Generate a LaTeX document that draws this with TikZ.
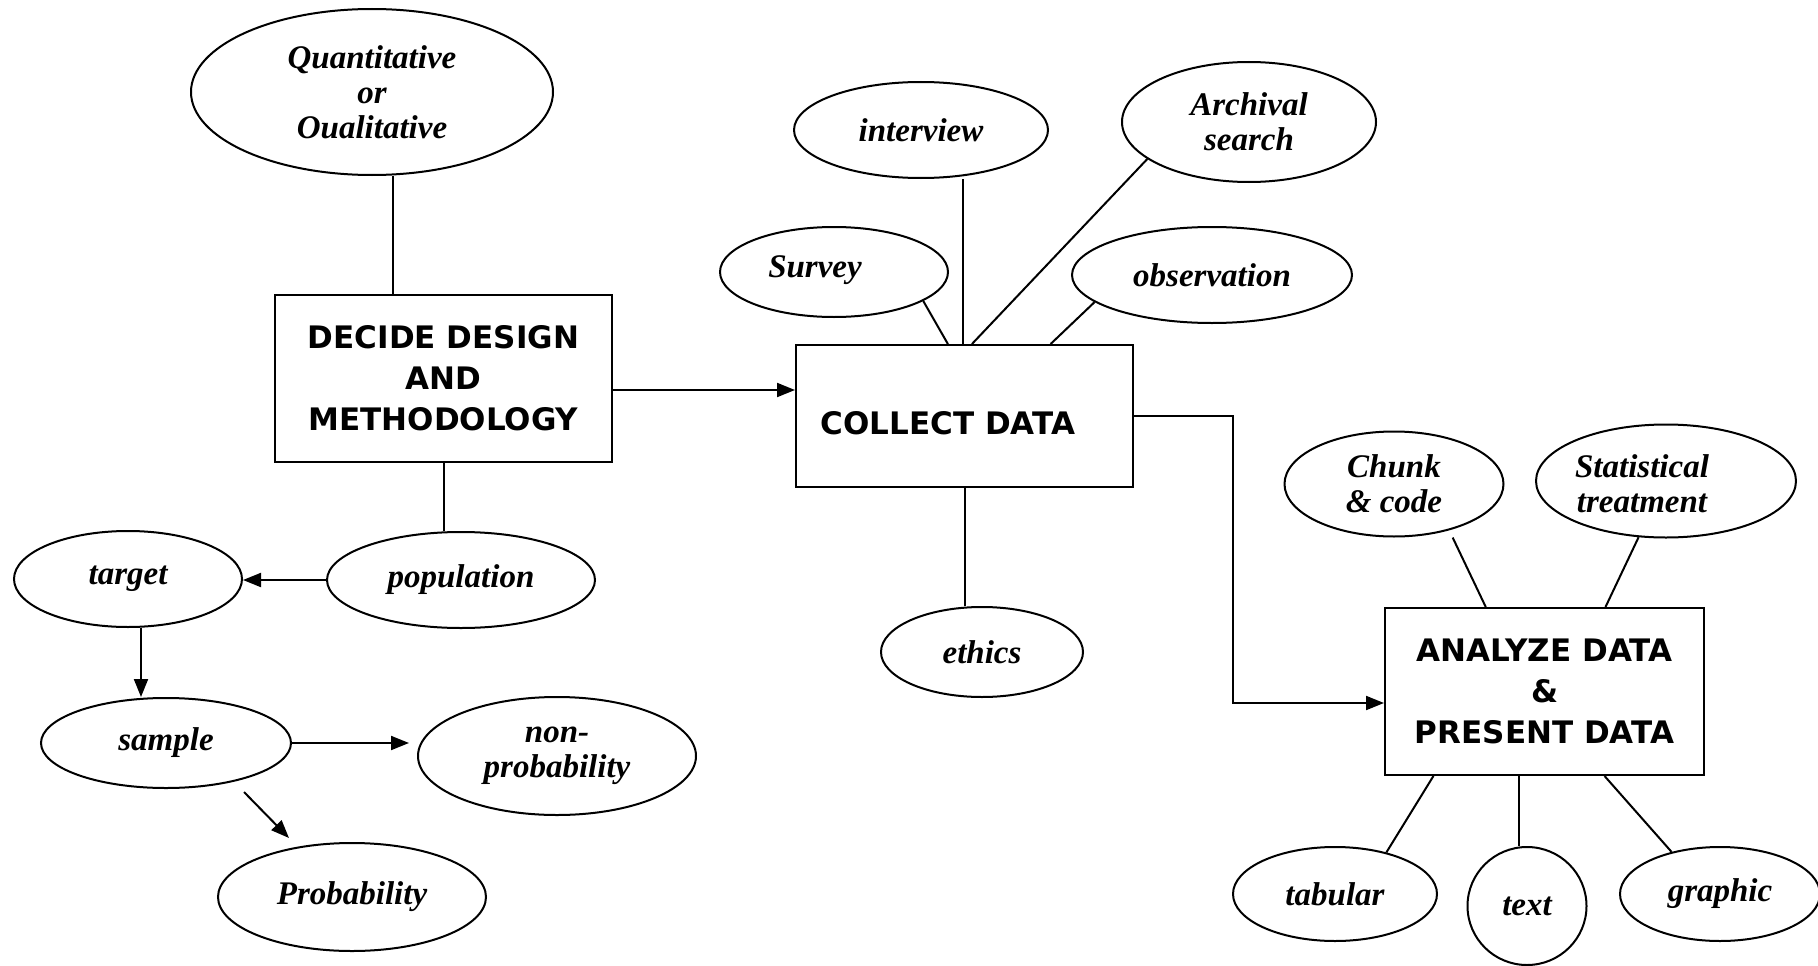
\documentclass[tikz,border=0pt]{standalone}
\usepackage{fontspec}
\setmainfont{Liberation Serif}
\newfontfamily\boxfam{DejaVu Sans}
\usetikzlibrary{shapes.geometric,arrows.meta,calc}
\newcommand\ellfont{\fontsize{33}{35}\selectfont\bfseries\itshape}
\newcommand\rectfont{\boxfam\fontsize{31}{41}\selectfont\bfseries}
\tikzset{
  ell/.style={draw, ellipse, line width=2pt, inner sep=0pt, align=center, font=\ellfont},
  etxt/.style={inner sep=0pt, align=center, font=\ellfont},
  boxn/.style={draw, rectangle, line width=2pt, inner sep=0pt, align=center, font=\rectfont},
  btxt/.style={inner sep=0pt, align=center, font=\rectfont},
  con/.style={line width=2pt},
  arr/.style={line width=2pt, -{Triangle[length=18pt,width=14pt]}},
}
\begin{document}
\begin{tikzpicture}[x=1pt,y=-1pt]
\fill[white] (0,0) rectangle (1818,966);
\useasboundingbox (0,0) rectangle (1818,966);

% boxes
\node[boxn, minimum width=337pt, minimum height=167pt] (decide) at (443.5,378.5) {DECIDE DESIGN\\AND\\METHODOLOGY};
\node[boxn, minimum width=337pt, minimum height=142pt] (collect) at (964.5,416) {};
\node[btxt] (collectT) at (948,423) {COLLECT DATA};
\node[boxn, minimum width=319pt, minimum height=167pt] (analyze) at (1544.5,691.5) {ANALYZE DATA\\\&\\PRESENT DATA};

% ellipses
\node[ell, minimum width=362pt, minimum height=166pt] (qual) at (372,92) {Quantitative\\or\\Oualitative};
\node[ell, minimum width=254pt, minimum height=96pt] (interview) at (921,130) {interview};
\node[ell, minimum width=254pt, minimum height=120pt] (archival) at (1249,122) {Archival\\search};
\node[ell, minimum width=228pt, minimum height=90pt] (survey) at (834,272) {};
\node[etxt] (surveyT) at (815,270) {Survey};
\node[ell, minimum width=280pt, minimum height=96pt] (obs) at (1212,275) {observation};
\node[ell, minimum width=202pt, minimum height=90pt] (ethics) at (982,652) {ethics};
\node[ell, minimum width=219pt, minimum height=105pt] (chunk) at (1394,484) {Chunk\\\& code};
\node[ell, minimum width=260pt, minimum height=113pt] (stat) at (1666,481) {};
\node[etxt] (statT) at (1642,484) {Statistical\\treatment};
\node[ell, minimum width=204pt, minimum height=94pt] (tabular) at (1335,894) {tabular};
\node[ell, minimum width=119pt, minimum height=118pt] (textn) at (1527,906) {text};
\node[ell, minimum width=200pt, minimum height=94pt] (graphic) at (1720,894) {graphic};
\node[ell, minimum width=268pt, minimum height=96pt] (population) at (461,580) {population};
\node[ell, minimum width=228pt, minimum height=96pt] (target) at (128,579) {target};
\node[ell, minimum width=250pt, minimum height=90pt] (sample) at (166,743) {sample};
\node[ell, minimum width=278pt, minimum height=118pt] (nonprob) at (557,756) {non-\\probability};
\node[ell, minimum width=268pt, minimum height=108pt] (prob) at (352,897) {Probability};

% connectors: left part
\coordinate (d1) at ($(decide.north west)!0.35!(decide.north east)$);
\draw[con] (d1) -- (d1 |- qual.south);
\coordinate (d2) at ($(decide.east)+(0,11.5)$);
\draw[arr] (d2) -- (d2 -| collect.west);
\draw[con] (decide.south) -- (decide.south |- population.north);
\draw[arr] (population.west) -- (population.west -| target.east);
\coordinate (t1) at ($(target.south)+(13,0)$);
\draw[arr] (t1) -- (t1 |- sample.north);
\draw[arr, shorten >=8pt] (sample.east) -- (sample.east -| nonprob.west);
\coordinate (s1) at ($(sample.center)+(78,49)$);
\coordinate (p1) at ($(prob.center)+(-63,-59)$);
\draw[arr] (s1) -- (p1);

% connectors: collect data
\draw[con] (survey.-18) -- ($(collect.north west)!0.451!(collect.north east)$);
\coordinate (c2) at ($(collect.north west)!0.496!(collect.north east)$);
\draw[con] (c2) -- (c2 |- interview.south);
\draw[con] (archival.200) -- ($(collect.north west)!0.522!(collect.north east)$);
\draw[con] (obs.193) -- ($(collect.north west)!0.754!(collect.north east)$);
\draw[con] (collect.south) -- (collect.south |- ethics.north);
\coordinate (a2) at ($(analyze.west)+(0,11.5)$);
\draw[arr] (collect.east) -- ++(99,0) |- (a2);

% connectors: analyze
\draw[con, shorten <=8pt] (chunk.-40) -- ($(analyze.north west)!0.317!(analyze.north east)$);
\draw[con] (stat.244) -- ($(analyze.north west)!0.69!(analyze.north east)$);
\draw[con] ($(analyze.south west)!0.154!(analyze.south east)$) -- (tabular.39);
\coordinate (b2) at ($(analyze.south west)!0.42!(analyze.south east)$);
\draw[con] (b2) -- (b2 |- textn.north);
\draw[con] ($(analyze.south west)!0.687!(analyze.south east)$) -- (graphic.139);
\end{tikzpicture}
\end{document}
